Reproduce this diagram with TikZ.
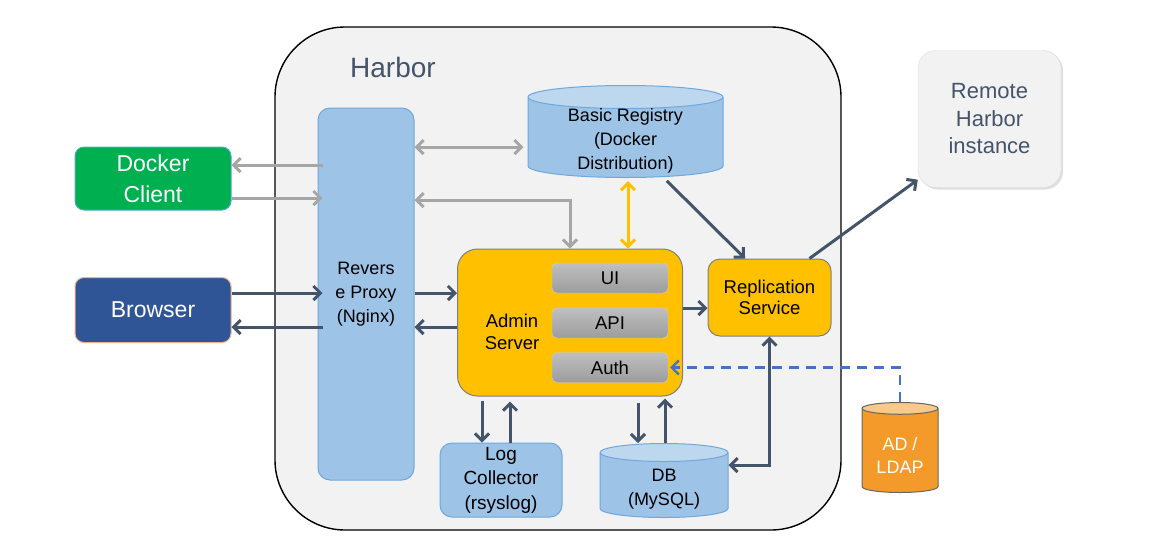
\documentclass[tikz,border=0pt]{standalone}
\usepackage{fontspec}
\setmainfont{Liberation Sans}
\usepackage{tikz}
\usetikzlibrary{arrows,arrows.meta,shapes,positioning,shadows}

\definecolor{harborfill}{HTML}{F2F2F2}
\definecolor{titlecol}{HTML}{44546A}
\definecolor{bluefill}{HTML}{9DC3E6}
\definecolor{bluetop}{HTML}{BDD7EE}
\definecolor{bluedge}{HTML}{6FA8DC}
\definecolor{dockfill}{HTML}{00B050}
\definecolor{dockedge}{HTML}{4BACC6}
\definecolor{browfill}{HTML}{2F5597}
\definecolor{browedge}{HTML}{F4B183}
\definecolor{yelfill}{HTML}{FFC000}
\definecolor{yeledge}{HTML}{7F7F7F}
\definecolor{subtop}{HTML}{BFBFBF}
\definecolor{subbot}{HTML}{9C9C9C}
\definecolor{subedge}{HTML}{D0D0D0}
\definecolor{darkline}{HTML}{44546A}
\definecolor{grayline}{HTML}{A6A6A6}
\definecolor{dashline}{HTML}{4472C4}
\definecolor{adfill}{HTML}{F39A2B}
\definecolor{adtop}{HTML}{F8C98A}

\begin{document}
\begin{tikzpicture}[x=1pt,y=-1pt,>={Straight Barb[length=7pt,width=14pt]},
   every node/.style={align=center,inner sep=0pt},
   lbl/.style={font=\fontsize{18}{24}\selectfont},
   bluebox/.style={draw=bluedge,fill=bluefill,line width=1pt,rounded corners=12pt},
   yelbox/.style={draw=yeledge,fill=yelfill,line width=1pt},
   subbox/.style={draw=subedge,top color=subtop,bottom color=subbot,rounded corners=5pt,minimum width=116pt,minimum height=30pt,font=\fontsize{18.5}{22}\selectfont},
   cyl/.style={cylinder,shape border rotate=90,line width=1pt,cylinder uses custom fill,lbl,anchor=north},
   darr/.style={draw=darkline,line width=3pt},
   garr/.style={draw=grayline,line width=3pt}]
\useasboundingbox (0,0) rectangle (1160,558);
% harbor frame
\node[draw,line width=1.4pt,fill=harborfill,rounded corners=70pt,minimum width=566pt,minimum height=503pt] (harbor) at (558,278.5) {};
\node[font=\fontsize{28}{34}\selectfont,text=titlecol] (title) at (393,67) {Harbor};
% outside
\node[draw=dockedge,fill=dockfill,line width=1pt,rounded corners=9pt,text=white,font=\fontsize{23}{31}\selectfont,minimum width=156pt,minimum height=63pt] (docker) at (153,178.5) {Docker\\Client};
\node[draw=browedge,fill=browfill,line width=1pt,rounded corners=9pt,text=white,font=\fontsize{23}{31}\selectfont,minimum width=156pt,minimum height=65pt] (browser) at (153,310) {Browser};
\node[fill=harborfill,draw=harborfill!90!black,rounded corners=18pt,drop shadow={opacity=0.25,shadow xshift=2pt,shadow yshift=-2pt},text=titlecol,font=\fontsize{22}{27.5}\selectfont,minimum width=143pt,minimum height=137pt] (remote) at (989.5,119) {Remote\\Harbor\\instance};
\node[cyl,draw=yeledge!80!black,cylinder body fill=adfill,cylinder end fill=adtop,minimum width=76pt,minimum height=90pt,aspect=0.25] (ad) at (900,402) {\hphantom{LDAP}};
\node[text=white,font=\fontsize{18}{23}\selectfont] (adlbl) at ([yshift=38pt]ad.south) {AD /\\LDAP};
% inside
\node[bluebox,lbl,minimum width=96pt,minimum height=372pt] (proxy) at (366,294) {Revers\\e Proxy\\(Nginx)};
\node[cyl,draw=bluedge,cylinder body fill=bluefill,cylinder end fill=bluetop,minimum width=195pt,minimum height=92pt,aspect=0.2] (reg) at (625.5,85) {\hphantom{Basic Registry}};
\node[lbl] (reglbl) at ([yshift=37.5pt]reg.south) {Basic Registry\\(Docker\\Distribution)};
\node[yelbox,rounded corners=20pt,minimum width=225pt,minimum height=147pt] (admin) at (570,322.5) {};
\node[font=\fontsize{18.5}{22}\selectfont] (adminlbl) at (512,332) {Admin\\Server};
\node[subbox] (ui) at (610,278) {UI};
\node[subbox] (api) at (610,323) {API};
\node[subbox] (auth) at (610,367.5) {Auth};
\node[yelbox,rounded corners=12pt,font=\fontsize{18.5}{21}\selectfont,minimum width=123pt,minimum height=77pt] (repl) at (769.5,297.5) {Replication\\Service};
\node[bluebox,font=\fontsize{19}{24.5}\selectfont,minimum width=122pt,minimum height=74pt] (log) at (501,480) {Log\\Collector\\(rsyslog)};
\node[cyl,draw=bluedge,cylinder body fill=bluefill,cylinder end fill=bluetop,minimum width=128pt,minimum height=74pt,aspect=0.25] (db) at (664,443) {\hphantom{(MySQL)}};
\node[lbl] (dblbl) at ([yshift=29pt]db.south) {DB\\(MySQL)};
% arrows
\draw[garr,->] ([yshift=13.5pt,xshift=5pt]docker.east -| proxy.west) -- ([yshift=13.5pt]docker.east);
\draw[garr,->] ([yshift=-19.5pt]docker.east) -- ([yshift=-19.5pt,xshift=5pt]docker.east -| proxy.west);
\draw[darr,->] ([yshift=17pt]browser.east) -- ([yshift=17pt,xshift=5pt]browser.east -| proxy.west);
\draw[darr,->] ([yshift=-17pt,xshift=5pt]browser.east -| proxy.west) -- ([yshift=-17pt]browser.east);
\draw[darr,->] ([yshift=17pt]browser.east -| proxy.east) -- ([yshift=17pt]browser.east -| admin.west);
\draw[darr,->] ([yshift=-17pt]browser.east -| admin.west) -- ([yshift=-17pt]browser.east -| proxy.east);
\draw[garr,<->] (proxy.east |- 0,147) -- ([xshift=-4pt]reg.west |- 0,147);
\draw[garr,<->] (admin.north) |- (proxy.east |- 0,200);
\draw[garr,draw=yelfill,<->,shorten <=3pt] ([xshift=2.5pt]reg.south) -- ([xshift=2.5pt]reg.south |- admin.north);
\draw[darr,->,shorten <=4pt] ([xshift=38.5pt]reg.south) -- ([xshift=-24.5pt]repl.north);
\draw[darr,->] (admin.east |- 0,308) -- (repl.west |- 0,308);
\draw[darr,->] ([xshift=40pt]repl.north) -- ([yshift=8pt]remote.south west);
\draw[darr,->,shorten <=4pt] ([xshift=-19pt]log.north |- admin.south) -- ([xshift=-19pt]log.north);
\draw[darr,->,shorten >=5pt] ([xshift=9pt]log.north) -- ([xshift=9pt]log.north |- admin.south);
\draw[darr,->,shorten <=6pt] ([xshift=-26pt]db.north |- admin.south) -- ([xshift=-26pt]db.north);
\draw[darr,->,shorten >=2pt] ([xshift=1pt]db.north) -- ([xshift=1pt]db.north |- admin.south);
\draw[darr,<->] (db.east |- 0,465) -| (repl.south);
\draw[dashline,line width=2.2pt,dash pattern=on 10pt off 7pt,->] (ad.north) |- ([xshift=2pt]auth.east);
\end{tikzpicture}
\end{document}
